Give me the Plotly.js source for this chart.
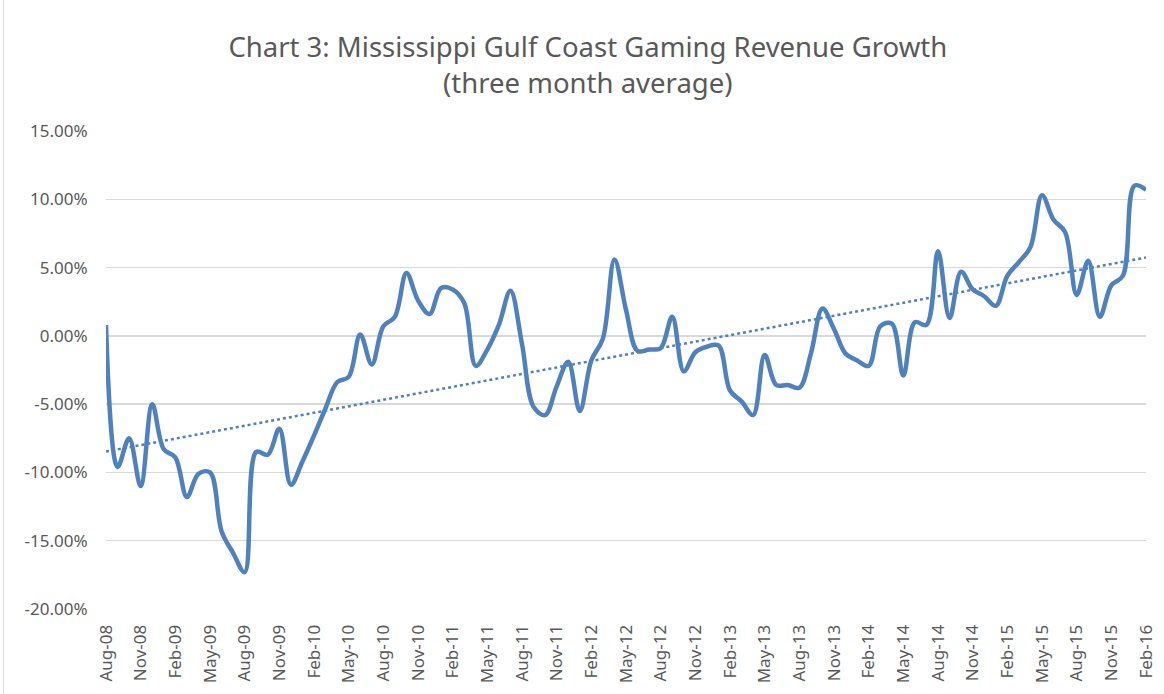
<!DOCTYPE html>
<html>
<head>
<meta charset="utf-8">
<script src="https://cdn.plot.ly/plotly-3.0.1.min.js"></script>
<style>
  html, body { margin: 0; padding: 0; background: #ffffff; }
  #chart { width: 1164px; height: 694px; }
</style>
</head>
<body>
<div id="chart"></div>
<script>
// Categories (months)
var months = [
  "Aug-08","Sep-08","Oct-08","Nov-08","Dec-08",
  "Jan-09","Feb-09","Mar-09","Apr-09","May-09","Jun-09","Jul-09","Aug-09","Sep-09","Oct-09","Nov-09","Dec-09",
  "Jan-10","Feb-10","Mar-10","Apr-10","May-10","Jun-10","Jul-10","Aug-10","Sep-10","Oct-10","Nov-10","Dec-10",
  "Jan-11","Feb-11","Mar-11","Apr-11","May-11","Jun-11","Jul-11","Aug-11","Sep-11","Oct-11","Nov-11","Dec-11",
  "Jan-12","Feb-12","Mar-12","Apr-12","May-12","Jun-12","Jul-12","Aug-12","Sep-12","Oct-12","Nov-12","Dec-12",
  "Jan-13","Feb-13","Mar-13","Apr-13","May-13","Jun-13","Jul-13","Aug-13","Sep-13","Oct-13","Nov-13","Dec-13",
  "Jan-14","Feb-14","Mar-14","Apr-14","May-14","Jun-14","Jul-14","Aug-14","Sep-14","Oct-14","Nov-14","Dec-14",
  "Jan-15","Feb-15","Mar-15","Apr-15","May-15","Jun-15","Jul-15","Aug-15","Sep-15","Oct-15","Nov-15","Dec-15",
  "Jan-16","Feb-16"
];

// Three-month average revenue growth, in percent
var growthPct = [
  0.8, -9.6, -7.5, -11.0, -5.0,
  -8.3, -8.9, -11.8, -10.1, -10.0, -14.3, -15.9, -17.3, -8.5, -8.7, -6.8, -10.9,
  -9.2, -7.3, -5.3, -3.4, -3.0, 0.1, -2.1, 0.7, 1.4, 4.6, 2.6, 1.6,
  3.5, 3.4, 2.4, -2.2, -1.0, 0.8, 3.3, -0.6, -5.2, -5.8, -3.7, -1.9,
  -5.5, -1.8, -0.2, 5.6, 1.9, -1.1, -1.0, -0.9, 1.4, -2.6, -1.2, -0.8,
  -0.7, -4.0, -4.8, -5.8, -1.4, -3.6, -3.6, -3.8, -1.3, 2.0, 0.5, -1.3,
  -1.8, -2.2, 0.7, 0.9, -2.9, 1.0, 0.8, 6.2, 1.3, 4.7, 3.4, 2.9,
  2.2, 4.4, 5.4, 6.5, 10.3, 8.5, 7.6, 3.0, 5.5, 1.4, 3.7, 4.4,
  11.0, 10.7
];

// Axis ticks
var xTickLabels = ["Aug-08","Nov-08","Feb-09","May-09","Aug-09","Nov-09","Feb-10","May-10","Aug-10","Nov-10",
  "Feb-11","May-11","Aug-11","Nov-11","Feb-12","May-12","Aug-12","Nov-12","Feb-13","May-13","Aug-13","Nov-13",
  "Feb-14","May-14","Aug-14","Nov-14","Feb-15","May-15","Aug-15","Nov-15","Feb-16"];
var yTickVals = [0.15, 0.10, 0.05, 0.0, -0.05, -0.10, -0.15, -0.20];
var yTickText = ["15.00%","10.00%","5.00%","0.00%","-5.00%","-10.00%","-15.00%","-20.00%"];

var growth = growthPct.map(function (v) { return v / 100; });

// Linear trendline (least squares over month index)
var n = growth.length, sx = 0, sy = 0, sxx = 0, sxy = 0;
for (var i = 0; i < n; i++) { sx += i; sy += growth[i]; sxx += i * i; sxy += i * growth[i]; }
var slope = (n * sxy - sx * sy) / (n * sxx - sx * sx);
var intercept = (sy - slope * sx) / n;
var trend = growth.map(function (_, i) { return intercept + slope * i; });

var blue = "#4F81BD";
var font = "Noto Sans, Open Sans, sans-serif";

var traces = [
  {
    x: months, y: growth, type: "scatter", mode: "lines",
    line: { color: blue, width: 4.5, shape: "spline", smoothing: 1 },
    hoverinfo: "x+y"
  },
  {
    x: months, y: trend, type: "scatter", mode: "lines",
    line: { color: blue, width: 2.5, dash: "dot" },
    hoverinfo: "skip"
  }
];

var layout = {
  width: 1164, height: 694,
  margin: { l: 106, r: 18, t: 131, b: 85, pad: 0 },
  paper_bgcolor: "#ffffff", plot_bgcolor: "#ffffff",
  showlegend: false,
  title: {
    text: "Chart 3: Mississippi Gulf Coast Gaming Revenue Growth<br>(three month average)",
    font: { family: font, size: 27.5, color: "#595959" },
    x: 0.505, xanchor: "center", yref: "container", y: 0.918, yanchor: "top"
  },
  xaxis: {
    type: "category",
    range: [0, n - 1],
    tickmode: "array", tickvals: xTickLabels, ticktext: xTickLabels,
    tickangle: -90,
    ticks: "outside", ticklen: 8, tickcolor: "rgba(0,0,0,0)",
    tickfont: { family: font, size: 17, color: "#595959" },
    showgrid: false, zeroline: false, showline: false
  },
  yaxis: {
    range: [-0.2, 0.15],
    tickmode: "array", tickvals: yTickVals, ticktext: yTickText,
    ticks: "outside", ticklen: 14, tickcolor: "rgba(0,0,0,0)",
    tickfont: { family: font, size: 17, color: "#595959" },
    showgrid: true, gridcolor: "#D9D9D9", gridwidth: 1.3,
    zeroline: false, showline: false
  },
  shapes: [
    { type: "line", xref: "paper", yref: "paper",
      x0: (3.5 - 106) / 1040, x1: (3.5 - 106) / 1040,
      y0: -85 / 478, y1: 131 / 478 + 1,
      line: { color: "#D9D9D9", width: 1 } }
  ]
};

Plotly.newPlot("chart", traces, layout, { displayModeBar: false, staticPlot: true });
</script>
</body>
</html>
